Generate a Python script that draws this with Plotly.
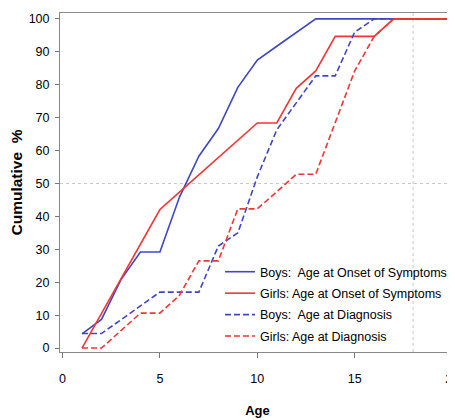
import plotly.graph_objects as go

ages = list(range(1, 21))

boys_onset = [4.3, 8.7, 20.8, 29.2, 29.2, 45.8, 58.3, 66.7, 79.2, 87.5,
              91.7, 95.8, 100, 100, 100, 100, 100, 100, 100, 100]
girls_onset = [0, 10.5, 21.1, 31.6, 42.1, 47.4, 52.6, 57.9, 63.2, 68.4,
               68.4, 78.9, 84.2, 94.7, 94.7, 94.7, 100, 100, 100, 100]
boys_diag = [4.4, 4.4, 8.6, 12.8, 17.0, 17.0, 17.0, 31.0, 35.0, 52.0,
             66.3, 74.5, 82.7, 82.7, 96.0, 100, 100, 100, 100, 100]
girls_diag = [0, 0, 5.3, 10.6, 10.6, 16.0, 26.5, 26.5, 42.3, 42.3,
              47.5, 52.8, 52.8, 68.4, 84.2, 94.7, 100, 100, 100, 100]

series_names = ["Boys:  Age at Onset of Symptoms",
                "Girls: Age at Onset of Symptoms",
                "Boys:  Age at Diagnosis",
                "Girls: Age at Diagnosis"]

x_ticks = [0, 5, 10, 15, 20]
y_ticks = list(range(0, 101, 10))
ref_y = 50
ref_x = 18

BLUE = "#3f47c2"
RED = "#f23535"
FONT = "Liberation Sans, Arial, sans-serif"

fig = go.Figure()
styles = [(BLUE, "solid"), (RED, "solid"), (BLUE, "dash"), (RED, "dash")]
for i, (name, vals, (c, d)) in enumerate(zip(series_names, [boys_onset, girls_onset, boys_diag, girls_diag], styles)):
    fig.add_trace(go.Scatter(x=ages, y=vals, mode="lines", name=name, legendgroup=f"g{i}",
                             line=dict(color=c, width=1.6, dash=d if d == "solid" else "6px,3px")))

fig.add_shape(type="line", xref="paper", yref="y", x0=0, x1=1, y0=ref_y, y1=ref_y,
              line=dict(color="#c8c8c8", width=1, dash="dot"), layer="below")
fig.add_shape(type="line", xref="x", yref="paper", x0=ref_x, x1=ref_x, y0=0, y1=1,
              line=dict(color="#c8c8c8", width=1, dash="dot"), layer="below")

fig.update_layout(
    width=455, height=420,
    margin=dict(l=52, r=8, t=5, b=76, autoexpand=False),
    paper_bgcolor="white", plot_bgcolor="white",
    font=dict(family=FONT, size=12.5, color="black"),
    showlegend=True,
    legend=dict(x=0.405, y=0.28, xanchor="left", yanchor="top",
                bgcolor="rgba(0,0,0,0)", font=dict(size=12.5, family=FONT),
                tracegroupgap=2.2, itemwidth=30),
    xaxis=dict(range=[-0.13, 20.15], tickvals=x_ticks, ticks="outside", ticklen=5,
               tickcolor="#777", showgrid=False, zeroline=False, showline=True,
               linecolor="#888", linewidth=1, mirror=True, ticklabelstandoff=10,
               automargin=False,
               title=dict(text="<b>Age</b>", font=dict(size=13, family=FONT), standoff=20)),
    yaxis=dict(range=[-1.2, 101.8], tickvals=y_ticks, ticks="outside", ticklen=4,
               tickcolor="#777", showgrid=False, zeroline=False, showline=True,
               linecolor="#888", linewidth=1, mirror=True, ticklabelstandoff=3,
               automargin=False,
               title=dict(text="<b>Cumulative  %</b>", font=dict(size=15.5, family=FONT), standoff=3)),
)

fig.write_html("out.html")
